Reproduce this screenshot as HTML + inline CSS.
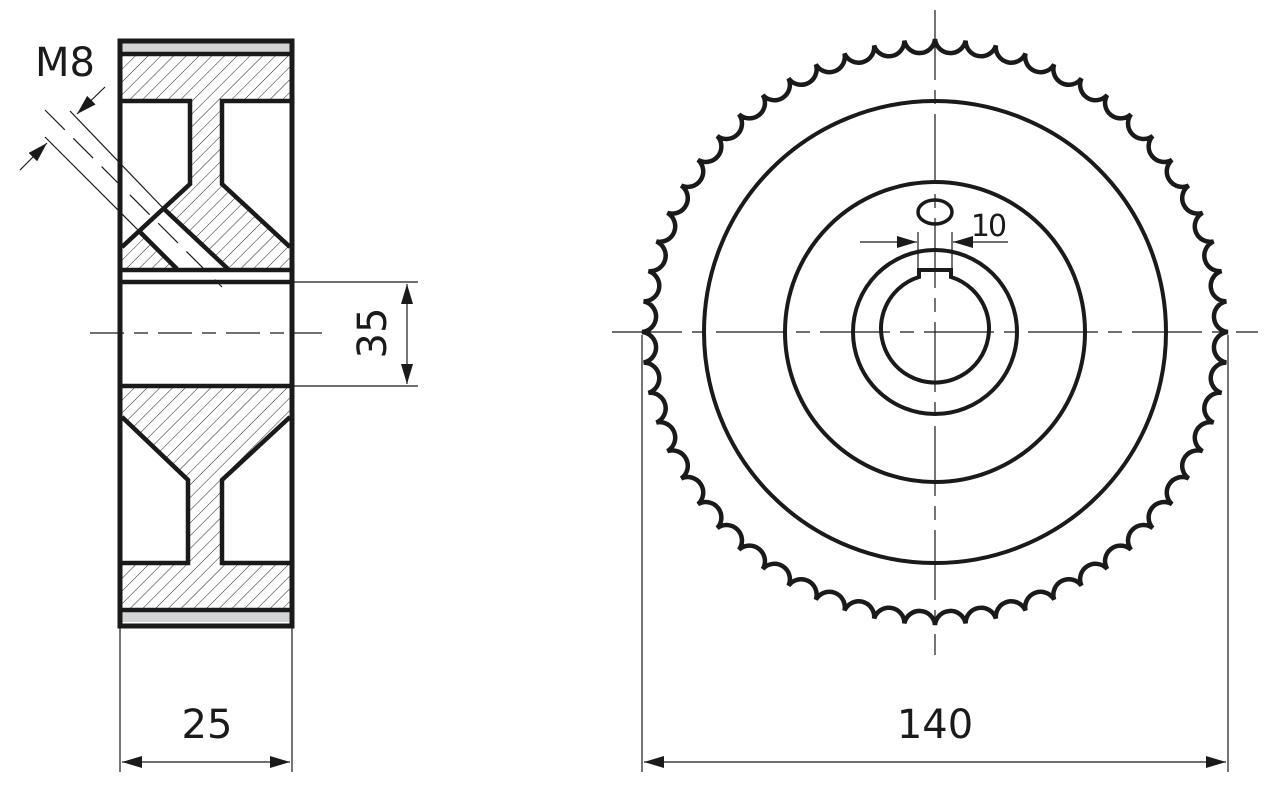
<!DOCTYPE html>
<html><head><meta charset="utf-8"><style>
html,body{margin:0;padding:0;background:#fff;}
svg{display:block;}
text{font-family:"DejaVu Sans","Liberation Sans",sans-serif;fill:#1a1a1a;}
</style></head><body>
<svg width="1277" height="793" viewBox="0 0 1277 793" xmlns="http://www.w3.org/2000/svg">
<defs>
<pattern id="h" patternUnits="userSpaceOnUse" width="9" height="9" patternTransform="rotate(45)">
<line x1="0" y1="0" x2="0" y2="9" stroke="#222" stroke-width="1"/>
</pattern>
<marker id="a" markerWidth="20" markerHeight="12" refX="20" refY="6" orient="auto-start-reverse" markerUnits="userSpaceOnUse">
<path d="M0,0 L20,6 L0,12 Z" fill="#1a1a1a"/>
</marker>
</defs>
<g stroke="#1a1a1a" fill="none">
<rect x="122" y="43" width="168" height="10" fill="#d3d4d6" stroke="none"/>
<rect x="122" y="612" width="168" height="10" fill="#d3d4d6" stroke="none"/>
<polygon points="122,54 290,54 290,101 222,101 222,184 290,247 290,269 122,269 122,247 190,184 190,101 122,101" fill="url(#h)" stroke="none"/>
<polygon points="122,386 290,386 290,417 222,480 222,563 290,563 290,609 122,609 122,563 188,563 188,480 122,417" fill="url(#h)" stroke="none"/>
<polygon points="140,232 163,208 228,269 177,269" fill="#fff" stroke="none"/>
<rect x="120" y="41" width="172" height="585" stroke-width="5"/>
<g stroke-width="4.5">
<line x1="120" y1="54" x2="292" y2="54"/>
<line x1="120" y1="610" x2="292" y2="610"/>
<polyline points="122,101 190,101 190,184 122,247"/>
<polyline points="290,101 222,101 222,184 290,247"/>
<line x1="163" y1="208" x2="228" y2="269"/>
<line x1="140" y1="232" x2="177" y2="269"/>
<line x1="120" y1="270" x2="292" y2="270"/>
<line x1="120" y1="282" x2="292" y2="282"/>
<line x1="120" y1="386" x2="292" y2="386"/>
<polyline points="122,417 188,480 188,563 122,563"/>
<polyline points="290,417 222,480 222,563 290,563"/>
</g>
<g stroke-width="1.2">
<line x1="70" y1="111" x2="163" y2="208"/>
<line x1="45" y1="137" x2="140" y2="232"/>
<line x1="45" y1="110" x2="222" y2="287" stroke-dasharray="28,12"/>
<line x1="105" y1="87" x2="77" y2="114" marker-end="url(#a)"/>
<line x1="20" y1="170" x2="47" y2="143" marker-end="url(#a)"/>
<line x1="90" y1="333" x2="322" y2="333" stroke-dasharray="34,10,14,10"/>
<line x1="292" y1="282" x2="418" y2="282"/>
<line x1="292" y1="386" x2="418" y2="386"/>
<line x1="407" y1="284" x2="407" y2="384" marker-start="url(#a)" marker-end="url(#a)"/>
<line x1="120" y1="628" x2="120" y2="772"/>
<line x1="292" y1="628" x2="292" y2="772"/>
<line x1="122" y1="762" x2="290" y2="762" marker-start="url(#a)" marker-end="url(#a)"/>
<line x1="612" y1="332" x2="1258" y2="332" stroke-dasharray="70,10,14,10"/>
<line x1="935" y1="10" x2="935" y2="655" stroke-dasharray="70,10,14,10"/>
<line x1="642" y1="335" x2="642" y2="772"/>
<line x1="1228" y1="335" x2="1228" y2="772"/>
<line x1="644" y1="762" x2="1226" y2="762" marker-start="url(#a)" marker-end="url(#a)"/>
<line x1="860" y1="242" x2="917" y2="242" marker-end="url(#a)"/>
<line x1="1008" y1="242" x2="953" y2="242" marker-end="url(#a)"/>
<line x1="918" y1="232" x2="918" y2="272"/>
<line x1="952" y1="232" x2="952" y2="272"/>
</g>
<g stroke-width="4">
<circle cx="935" cy="332" r="231"/>
<circle cx="935" cy="332" r="150"/>
<circle cx="935" cy="332" r="82"/>
<path d="M919,277 L919,270 L951,270 L951,277 A54,54 0 1 1 919,277 Z"/>
<ellipse cx="935" cy="212" rx="17" ry="12" stroke-width="3.5"/>
<path id="teeth" stroke-width="4.5"/>
</g>
</g>
<text x="65" y="76" font-size="40" text-anchor="middle">M8</text>
<text x="207" y="738" font-size="40" text-anchor="middle">25</text>
<text x="935" y="738" font-size="40" text-anchor="middle">140</text>
<text x="988" y="236" font-size="30" text-anchor="middle" letter-spacing="-2">10</text>
<text transform="translate(386,333) rotate(-90)" font-size="40" text-anchor="middle">35</text>
<script>
(function(){var cx=935,cy=332,R=293,n=60,d="";
for(var k=0;k<=n;k++){var t=k*2*Math.PI/n;var x=cx+R*Math.cos(t),y=cy+R*Math.sin(t);
if(k==0)d+="M"+x.toFixed(2)+","+y.toFixed(2);else d+=" A15.5,15.5 0 0 0 "+x.toFixed(2)+","+y.toFixed(2);}
document.getElementById("teeth").setAttribute("d",d+" Z");})();
</script>
</svg>
</body></html>
